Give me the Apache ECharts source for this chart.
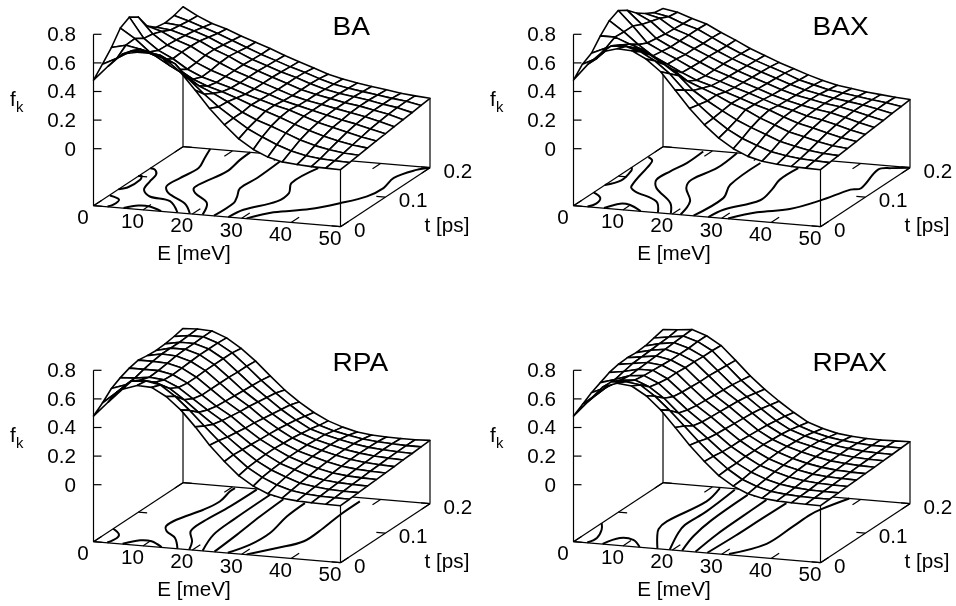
<!DOCTYPE html>
<html>
<head>
<meta charset="utf-8">
<title>f_k surfaces</title>
<style>
  html, body { margin: 0; padding: 0; background: #fff; }
  #chart { width: 956px; height: 606px; }
</style>
</head>
<body>
<div id="chart"></div>
<script src="https://cdn.jsdelivr.net/npm/echarts@6/dist/echarts.min.js"></script>
<script>
// mesh axes
const energies = [0, 2.94, 5.88, 8.82, 11.76, 14.7, 17.65, 20.6, 23.5, 26.5, 29.4, 32.35, 35.3, 38.2, 41.2, 44.1, 47, 50]
const times = [0, 0.02, 0.04, 0.06, 0.08, 0.1, 0.12, 0.14, 0.16, 0.18, 0.2]

const zTicks = [0, 0.2, 0.4, 0.6, 0.8]
const eTicks = [0, 10, 20, 30, 40, 50]
const tTicks = [0, 0.1, 0.2]

// f_k, one row per time
const surfaceBA = [
  [.48, .585, .68, .70, .70, .665, .585, .47, .35, .245, .155, .09, .045, .02, .01, .004, .002, 0],
  [.55, .60, .66, .665, .645, .595, .49, .40, .32, .25, .185, .135, .09, .055, .03, .018, .012, .009],
  [.625, .65, .63, .595, .535, .48, .41, .365, .315, .25, .205, .17, .13, .09, .06, .04, .025, .018],
  [.72, .655, .57, .525, .465, .405, .365, .335, .30, .26, .225, .19, .15, .115, .085, .06, .04, .027],
  [.755, .615, .54, .49, .425, .38, .35, .32, .285, .255, .225, .20, .165, .13, .105, .08, .055, .036],
  [.715, .605, .535, .495, .43, .385, .35, .315, .28, .25, .215, .19, .165, .14, .115, .095, .07, .045],
  [.61, .58, .53, .495, .44, .395, .35, .315, .28, .245, .21, .185, .165, .145, .125, .105, .08, .053],
  [.56, .55, .52, .49, .44, .40, .35, .315, .28, .245, .21, .185, .165, .145, .13, .11, .09, .061],
  [.55, .54, .51, .475, .43, .39, .345, .31, .275, .245, .21, .18, .16, .145, .13, .11, .095, .069],
  [.56, .53, .495, .46, .42, .38, .34, .305, .27, .24, .205, .175, .155, .14, .125, .11, .098, .078],
  [.58, .525, .48, .45, .41, .375, .34, .30, .265, .23, .195, .17, .15, .135, .12, .105, .095, .087]
]
const surfaceBAX = [
  [.48, .60, .695, .725, .72, .67, .59, .47, .35, .245, .16, .095, .05, .025, .012, .005, .002, 0],
  [.55, .60, .695, .70, .67, .615, .535, .43, .335, .25, .18, .125, .085, .05, .03, .018, .012, .008],
  [.585, .63, .66, .645, .61, .55, .48, .385, .32, .26, .205, .16, .12, .08, .055, .035, .022, .016],
  [.665, .665, .625, .59, .52, .47, .40, .36, .32, .27, .235, .185, .145, .105, .08, .055, .035, .024],
  [.73, .66, .58, .51, .46, .41, .365, .335, .30, .265, .23, .20, .16, .125, .10, .075, .05, .032],
  [.76, .66, .55, .50, .455, .405, .355, .325, .29, .26, .225, .19, .165, .135, .115, .09, .062, .04],
  [.72, .63, .54, .49, .445, .40, .355, .32, .285, .25, .215, .185, .16, .14, .125, .10, .072, .048],
  [.66, .61, .53, .49, .445, .40, .355, .315, .28, .245, .21, .18, .16, .14, .125, .105, .08, .055],
  [.615, .59, .525, .49, .44, .395, .35, .31, .275, .24, .205, .175, .155, .135, .12, .105, .085, .063],
  [.58, .56, .52, .49, .44, .39, .345, .305, .27, .235, .195, .17, .145, .13, .115, .10, .088, .07],
  [.568, .55, .515, .485, .435, .39, .34, .30, .26, .225, .19, .16, .135, .12, .105, .095, .085, .078]
]
const surfaceRPA = [
  [.48, .585, .685, .72, .715, .66, .575, .465, .345, .24, .15, .085, .04, .018, .008, .003, .001, 0],
  [.53, .615, .70, .71, .69, .62, .53, .43, .335, .245, .165, .105, .06, .03, .015, .008, .005, .004],
  [.59, .625, .665, .66, .625, .555, .475, .40, .32, .24, .17, .115, .075, .04, .024, .014, .01, .009],
  [.625, .63, .645, .635, .59, .52, .45, .385, .31, .235, .175, .12, .085, .05, .03, .02, .016, .013],
  [.65, .65, .65, .63, .58, .505, .435, .375, .30, .23, .175, .125, .09, .06, .038, .026, .021, .018],
  [.665, .665, .66, .635, .58, .505, .43, .365, .295, .225, .17, .125, .095, .066, .044, .032, .026, .022],
  [.655, .675, .67, .64, .585, .505, .425, .36, .285, .22, .165, .125, .095, .07, .05, .037, .03, .026],
  [.65, .675, .675, .645, .585, .505, .42, .35, .275, .21, .155, .12, .095, .07, .053, .041, .035, .031],
  [.655, .675, .675, .645, .585, .50, .415, .34, .265, .20, .145, .115, .09, .068, .052, .044, .038, .035],
  [.665, .68, .68, .645, .585, .50, .41, .33, .255, .185, .13, .10, .078, .06, .05, .044, .04, .04],
  [.68, .685, .68, .64, .575, .495, .40, .31, .235, .17, .12, .085, .06, .047, .042, .04, .04, .044]
]
const surfaceRPAX = [
  [.48, .59, .70, .735, .725, .665, .575, .46, .345, .24, .15, .085, .04, .018, .008, .003, .001, 0],
  [.52, .60, .695, .705, .69, .62, .53, .43, .33, .235, .155, .09, .05, .024, .012, .006, .004, .004],
  [.56, .605, .665, .675, .635, .565, .47, .39, .31, .225, .155, .10, .06, .033, .018, .01, .008, .007],
  [.59, .62, .655, .665, .62, .535, .45, .375, .30, .22, .16, .105, .07, .042, .025, .016, .012, .011],
  [.62, .635, .66, .66, .61, .525, .44, .37, .295, .22, .16, .11, .075, .05, .03, .02, .016, .014],
  [.635, .65, .665, .655, .61, .52, .435, .365, .29, .215, .16, .115, .08, .055, .036, .025, .02, .018],
  [.64, .655, .67, .65, .605, .515, .43, .36, .285, .21, .155, .115, .085, .06, .04, .03, .024, .021],
  [.635, .66, .675, .65, .605, .515, .425, .355, .28, .205, .15, .11, .085, .06, .043, .033, .027, .025],
  [.64, .665, .68, .65, .60, .51, .42, .345, .27, .195, .14, .105, .08, .058, .044, .034, .03, .028],
  [.655, .67, .685, .655, .60, .505, .41, .33, .255, .185, .125, .09, .065, .05, .04, .033, .032, .032],
  [.672, .68, .69, .655, .595, .50, .40, .315, .24, .17, .11, .075, .05, .038, .032, .03, .032, .035]
]

// contour lines on the base plane, as [E, t] pairs
const contoursBA = [
  [[.15, .035], [2.9, .025], [3.3, .008], [2.75, .001]],
  [[0, .056], [1.2, .065], [1.3, .09], [.5, .102], [0, .1]],
  [[6, .001], [8, .012], [10.3, .012], [13.6, .001]],
  [[16.9, .001], [12.5, .033], [7.6, .042], [4.7, .061], [3.5, .087], [2.8, .109], [1.2, .124], [0, .127]],
  [[19.4, .001], [15.9, .029], [10, .057], [7.8, .077], [8, .105], [8.6, .14], [7, .171], [5.5, .2]],
  [[22, .001], [19.6, .037], [14.8, .064], [13.2, .079], [13.4, .098], [14.6, .137], [13.8, .175], [13.6, .2]],
  [[24.3, .001], [24.4, .044], [23.2, .065], [21.5, .09], [21.8, .125], [21.4, .181]],
  [[27.3, 0], [28, .026], [31.7, .06], [31.6, .088], [29.3, .119], [30.1, .17]],
  [[30.9, .001], [34.1, .026], [39.7, .045], [43.6, .071], [46.5, .098], [47.2, .127], [46.3, .16], [48.2, .19], [50, .2]]
]
const contoursBAX = [
  [[0, .045], [2.7, .03], [3.5, .012], [2.75, .001]],
  [[0, .07], [1.7, .088], [.8, .121], [0, .13]],
  [[6.1, .001], [7.8, .018], [9.8, .017], [13.5, .001]],
  [[17, .001], [13.7, .034], [7.1, .059], [5.1, .073], [2.5, .143], [1.8, .156], [.2, .165]],
  [[19.6, .001], [16.6, .033], [10.1, .074], [7.8, .099], [8, .128], [8.7, .157], [8.5, .196]],
  [[21.6, .001], [19.7, .043], [15.4, .082], [14.1, .108], [15.5, .15], [15, .2]],
  [[24.2, .001], [24.8, .061], [22.4, .103], [21.9, .176]],
  [[27.3, 0], [28, .026], [32, .064], [31.2, .099], [29.9, .131], [30.1, .17]],
  [[31.2, .001], [34.7, .027], [39.7, .045], [42.8, .078], [45.3, .119], [46.8, .126], [44.8, .186], [46.8, .194], [50, .2]]
]
const contoursRPA = [
  [[0, .044], [2.4, .03], [3.2, .017], [2.7, .001]],
  [[5.8, .001], [8, .016], [10.3, .016], [13.7, .001]],
  [[16.9, .001], [13.6, .032], [10.3, .05], [8.8, .065], [8.9, .087], [11, .124], [11.7, .153], [10.8, .186], [10.8, .197]],
  [[19.3, .001], [17.6, .026], [14.6, .056], [14.2, .089], [14.9, .141], [15.1, .198]],
  [[22, .001], [19.6, .052], [19.1, .102], [18.9, .186]],
  [[24.4, .001], [23.8, .058], [23, .118], [22.5, .176]],
  [[27.1, .001], [28.9, .031], [29.3, .071], [27.8, .125], [27.4, .17]],
  [[30.9, .001], [34.6, .028], [37.6, .055], [37.5, .1], [36.9, .144], [36.8, .189]]
]
const contoursRPAX = [
  [[0, .063], [1.8, .043], [3.2, .017], [2.7, .001]],
  [[5.8, .001], [7.3, .023], [10.2, .021], [13.3, .001]],
  [[16.9, .001], [13.6, .037], [11.8, .06], [11.2, .085], [12.9, .155], [11.7, .198]],
  [[19.4, .001], [16.4, .053], [15.4, .079], [15.6, .125], [14.8, .197]],
  [[21.9, .001], [20, .047], [18.9, .1], [18.5, .185]],
  [[24.6, .001], [23.7, .06], [23.4, .12], [23.2, .175]],
  [[27, .001], [27.4, .06], [27.5, .12], [27.7, .17]],
  [[31.2, .003], [35.2, .043], [35.2, .102], [35.1, .141], [35.6, .161], [37.7, .2]]
]

const panels = [
  { name: 'BA', surface: surfaceBA, contours: contoursBA, ox: 0, oy: 0 },
  { name: 'BAX', surface: surfaceBAX, contours: contoursBAX, ox: 480, oy: 0 },
  { name: 'RPA', surface: surfaceRPA, contours: contoursRPA, ox: 0, oy: 336 },
  { name: 'RPAX', surface: surfaceRPAX, contours: contoursRPAX, ox: 480, oy: 336 }
]

// gnuplot style oblique view: E runs right and a little down, t runs up and right
const tSkew = 90.6
const eDrop = 0.002937
const tRise = 2.063
const baseZ = -0.3986
const project = (E, t, z) => [E + t * tSkew, z - E * eDrop + t * tRise]

const xMax = 50 + 0.2 * tSkew
const yMin = baseZ - 50 * eDrop
const yMax = 1

const ink = '#000'
const font = '"Liberation Sans", Arial, sans-serif'
const stretch = 1.06

function label(text, x, y, size, align) {
  return {
    type: 'text',
    x,
    y: y + 1.5,
    scaleX: stretch,
    silent: true,
    style: { text, fontFamily: font, fontSize: size, fill: ink, align, verticalAlign: 'middle' }
  }
}

function renderPanel(panel, api) {
  const at = (E, t, z) => api.coord(project(E, t, z))
  const line = (a, b) => ({
    type: 'line',
    silent: true,
    shape: { x1: a[0], y1: a[1], x2: b[0], y2: b[1] },
    style: { stroke: ink, lineWidth: 1.2 }
  })
  const children = []
  const tEnd = times[times.length - 1]
  const eEnd = energies[energies.length - 1]

  // box
  children.push(line(at(0, 0, baseZ), at(eEnd, 0, baseZ)))
  children.push(line(at(eEnd, 0, baseZ), at(eEnd, tEnd, baseZ)))
  children.push(line(at(eEnd, tEnd, baseZ), at(0, tEnd, baseZ)))
  children.push(line(at(0, tEnd, baseZ), at(0, 0, baseZ)))
  children.push(line(at(0, 0, baseZ), at(0, 0, zTicks[zTicks.length - 1])))
  children.push(line(at(eEnd, 0, baseZ), at(eEnd, 0, panel.surface[0][energies.length - 1])))
  children.push(line(at(eEnd, tEnd, baseZ), at(eEnd, tEnd, panel.surface[times.length - 1][energies.length - 1])))
  children.push(line(at(0, tEnd, baseZ), at(0, tEnd, panel.surface[times.length - 1][0])))

  // ticks
  zTicks.forEach((z) => {
    const p = at(0, 0, z)
    children.push(line(p, [p[0] + 8, p[1]]))
    children.push(label(String(z), p[0] - 17.5, p[1], 19.5, 'right'))
  })
  eTicks.forEach((E) => {
    children.push(line(at(E, 0, baseZ), at(E, 0.018, baseZ)))
    children.push(line(at(E, tEnd, baseZ), at(E, tEnd - 0.018, baseZ)))
    const p = at(E, 0, baseZ)
    children.push(label(String(E), p[0] - 10.5, p[1] + 11.5, 19.5, 'center'))
  })
  tTicks.forEach((t) => {
    children.push(line(at(0, t, baseZ), at(1.8, t, baseZ)))
    children.push(line(at(eEnd, t, baseZ), at(eEnd - 1.8, t, baseZ)))
    const p = at(eEnd, t, baseZ)
    children.push(label(String(t), p[0] + 13.5, p[1] + 3, 19.5, 'left'))
  })

  // contours sit on the base, the surface covers them where needed
  panel.contours.forEach((c) => {
    children.push({
      type: 'polyline',
      silent: true,
      shape: { points: c.map((q) => at(q[0], q[1], baseZ)), smooth: 0.35 },
      style: { stroke: ink, lineWidth: 2, fill: null, lineJoin: 'round' }
    })
  })

  // hidden line mesh: far cells first, white fill hides what is behind
  for (let j = times.length - 2; j >= 0; j--) {
    for (let i = 0; i < energies.length - 1; i++) {
      children.push({
        type: 'polygon',
        silent: true,
        shape: {
          points: [
            at(energies[i], times[j], panel.surface[j][i]),
            at(energies[i + 1], times[j], panel.surface[j][i + 1]),
            at(energies[i + 1], times[j + 1], panel.surface[j + 1][i + 1]),
            at(energies[i], times[j + 1], panel.surface[j + 1][i])
          ]
        },
        style: { fill: '#fff', stroke: ink, lineWidth: 1.6, lineJoin: 'round' }
      })
    }
  }

  // axis names and panel title
  const o = at(0, 0, baseZ)
  children.push(label('E [meV]', o[0] + 100.5, o[1] + 47, 19.5, 'center'))
  children.push(label('t [ps]', o[0] + 353.5, o[1] + 19, 19.5, 'center'))
  children.push(label('f', o[0] - 83.5, o[1] - 107, 19.5, 'left'))
  children.push(label('k', o[0] - 77.5, o[1] - 99, 14, 'left'))
  children.push(label(panel.name, o[0] + 239, o[1] - 180, 26.5, 'left'))

  return { type: 'group', children }
}

const chart = echarts.init(document.getElementById('chart'))

const gridHeight = (yMax - yMin) * 143
const option = {
  animation: false,
  backgroundColor: '#fff',
  grid: panels.map((p) => ({
    left: 93.5 + p.ox,
    top: 226.7 + p.oy - gridHeight,
    width: 336.5,
    height: gridHeight,
    containLabel: false
  })),
  xAxis: panels.map((p, i) => ({ type: 'value', gridIndex: i, min: 0, max: xMax, show: false })),
  yAxis: panels.map((p, i) => ({ type: 'value', gridIndex: i, min: yMin, max: yMax, show: false })),
  series: panels.map((p, i) => ({
    type: 'custom',
    name: p.name,
    xAxisIndex: i,
    yAxisIndex: i,
    coordinateSystem: 'cartesian2d',
    silent: true,
    data: [[0, 0]],
    renderItem: (params, api) => renderPanel(p, api)
  }))
}
chart.setOption(option)
</script>
</body>
</html>
